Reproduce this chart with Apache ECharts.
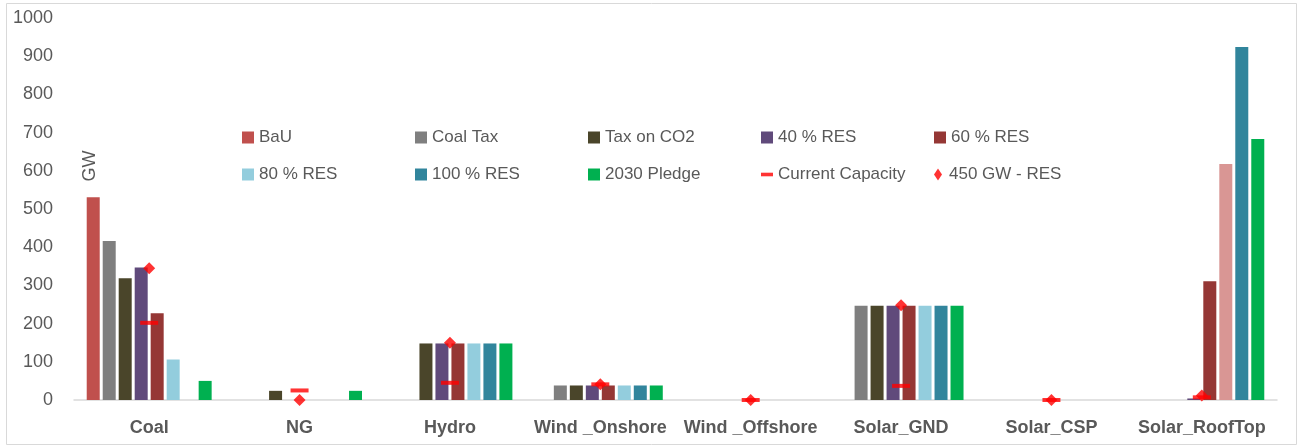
<!DOCTYPE html>
<html>
<head>
<meta charset="utf-8">
<script src="https://cdn.jsdelivr.net/npm/echarts@6/dist/echarts.min.js"></script>
<style>
  html, body { margin: 0; padding: 0; background: #fff; }
  #chart { width: 1299px; height: 446px; }
</style>
</head>
<body>
<div id="chart"></div>
<script>
const categories = ['Coal', 'NG', 'Hydro', 'Wind _Onshore', 'Wind _Offshore', 'Solar_GND', 'Solar_CSP', 'Solar_RoofTop']

const bau = [531, 0, 0, 0, 0, 0, 0, 0]
const coalTax = [416, 0, 0, 38, 0, 247, 0, 0]
const taxCO2 = [319, 24, 148, 38, 0, 247, 0, 0]
const res40 = [347, 0, 148, 38, 0, 247, 0, 4]
const res60 = [227, 0, 148, 38, 0, 247, 0, 311]
const res80 = [106, 0, 148, 38, 0, 247, 0, 618]
const res100 = [0, 0, 148, 38, 0, 247, 0, 924]
const pledge = [50, 24, 148, 38, 0, 247, 0, 683]
const currentCap = [202, 25, 45, 41, 0, 37, 0, 7]
const res450 = [345, 0, 150, 41, 0, 248, 0, 12]

const yTicks = [0, 100, 200, 300, 400, 500, 600, 700, 800, 900, 1000]

const legendOrder = ['BaU', 'Coal Tax', 'Tax on CO2', '40 % RES', '60 % RES',
  '80 % RES', '100 % RES', '2030 Pledge', 'Current Capacity', '450 GW - RES']

const textColor = '#595959'
const font = 'Liberation Sans'

const barDefs = [
  { name: 'BaU', data: bau, color: '#C0504D' },
  { name: 'Coal Tax', data: coalTax, color: '#7F7F7F' },
  { name: 'Tax on CO2', data: taxCO2, color: '#4A452A' },
  { name: '40 % RES', data: res40, color: '#604A7B' },
  { name: '60 % RES', data: res60, color: '#953735' },
  { name: '80 % RES', data: res80, color: '#93CDDD' },
  { name: '100 % RES', data: res100, color: '#31859C' },
  { name: '2030 Pledge', data: pledge, color: '#00B050' },
]

const chart = echarts.init(document.getElementById('chart'))

const series = barDefs.map((b) => {
  let data = b.data.map((v) => v)
  if (b.name === '80 % RES') {
    // roof-top point is coloured differently in the source
    data = data.map((v, i) => categories[i] === 'Solar_RoofTop' ? { value: v, itemStyle: { color: '#D99694' } } : v)
  }
  return {
    name: b.name,
    type: 'bar',
    data,
    barWidth: 13,
    barGap: '23%',
    itemStyle: { color: b.color },
    silent: true,
  }
})

series.push({
  name: 'Current Capacity',
  type: 'scatter',
  data: currentCap,
  symbol: 'rect',
  symbolSize: [18, 4],
  itemStyle: { color: '#FF0000' },
  z: 5,
  silent: true,
})
series.push({
  name: '450 GW - RES',
  type: 'scatter',
  data: res450,
  symbol: 'diamond',
  symbolSize: 12,
  itemStyle: { color: '#FF0000' },
  z: 6,
  silent: true,
})

const legendIcons = {
  'Current Capacity': 'path://M0,0h10v3h-10z',
  '450 GW - RES': 'path://M4,0L8,6L4,12L0,6z',
}

// one legend per item so the columns line up like the original
const legends = legendOrder.map((name, i) => ({
  left: 237 + (i % 5) * 173,
  top: i < 5 ? 124 : 161,
  itemWidth: 12,
  itemHeight: 12,
  icon: legendIcons[name] || 'rect',
  selectedMode: false,
  textStyle: { color: textColor, fontSize: 17, fontFamily: font },
  data: [name],
}))

const options = {
  animation: false,
  grid: { left: 74, right: 22, top: 18, bottom: 46 },
  legend: legends,
  xAxis: {
    type: 'category',
    data: categories,
    axisLine: { lineStyle: { color: '#D9D9D9', width: 1.5 } },
    axisTick: { show: false },
    axisLabel: {
      interval: 0,
      margin: 19,
      color: textColor,
      fontSize: 18,
      fontWeight: 'bold',
      fontFamily: font,
    },
  },
  yAxis: {
    type: 'value',
    min: yTicks[0],
    max: yTicks[yTicks.length - 1],
    interval: 100,
    splitLine: { show: false },
    axisLine: { show: false },
    axisTick: { show: false },
    axisLabel: {
      color: textColor,
      fontSize: 18,
      fontFamily: font,
      margin: 21,
      formatter: (v) => String(v),
    },
  },
  graphic: [
    {
      type: 'rect',
      shape: { x: 6.5, y: 3.5, width: 1290, height: 441 },
      style: { fill: 'none', stroke: '#D9D9D9', lineWidth: 1 },
      silent: true,
    },
    {
      type: 'text',
      x: 90,
      y: 166,
      rotation: Math.PI / 2,
      style: {
        text: 'GW',
        fill: textColor,
        font: '18px ' + font,
        align: 'center',
        verticalAlign: 'middle',
      },
    },
  ],
  series,
}

chart.setOption(options)
</script>
</body>
</html>
